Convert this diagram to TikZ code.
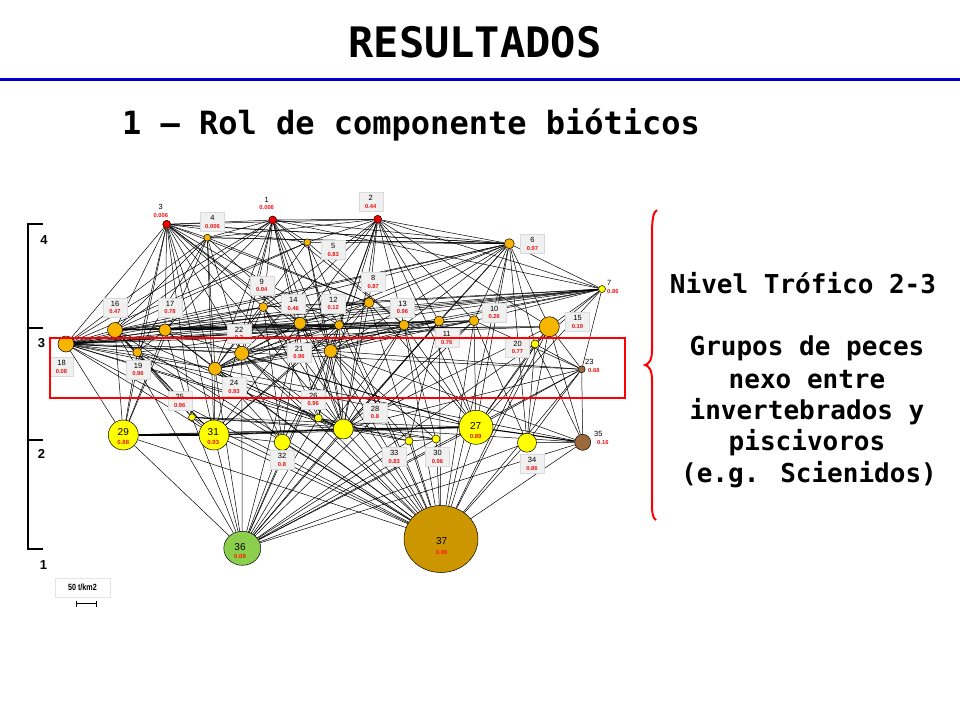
\documentclass[tikz,border=0pt]{standalone}
\usepackage{fontspec}
\setmainfont{Liberation Sans}
\newfontfamily\monob{DejaVu Sans Mono}
\usetikzlibrary{shapes.geometric,backgrounds}
\definecolor{cred}{HTML}{EE0000}
\definecolor{corange}{HTML}{F7B500}
\definecolor{cyel}{HTML}{FFFF00}
\definecolor{cbrown}{HTML}{9C6A3A}
\definecolor{cgreen}{HTML}{8CCF4D}
\definecolor{cgold}{HTML}{CC9600}
\definecolor{cval}{HTML}{EE1111}
\definecolor{cblue}{HTML}{0000CC}
\definecolor{boxfill}{HTML}{F0F0F0}
\tikzset{
  nd/.style={circle,draw=black,line width=0.5pt,inner sep=0pt},
  edge/.style={draw=black,line width=0.5pt},
  lbox/.style={draw=gray!30,fill=boxfill,inner sep=0.6pt,minimum width=24pt,minimum height=19pt,align=center,font=\fontsize{7.5}{7.5}\selectfont},
  lfree/.style={inner sep=0pt,align=center,font=\fontsize{7.5}{7.5}\selectfont},
  intext/.style={inner sep=0pt,font=\fontsize{10}{10}\selectfont},
  inval/.style={inner sep=0pt,text=cval,font=\bfseries\fontsize{6}{6}\selectfont},
  axlab/.style={inner sep=0pt,font=\bfseries\fontsize{13}{13}\selectfont},
  rtext/.style={inner sep=0pt,font=\monob\bfseries\fontsize{26}{30}\selectfont},
}
\newcommand{\vl}[1]{{\color{cval}\bfseries\fontsize{5.8}{6}\selectfont #1}}
\begin{document}
\begin{tikzpicture}[x=1pt,y=-1pt]
\useasboundingbox (0,0) rectangle (960,720);
% title
\node[inner sep=0pt,font=\monob\bfseries\fontsize{42}{46}\selectfont] (title) at (475,42) {RESULTADOS};
\draw[cblue,line width=3pt] (0,79) -- (960,79);
\node[inner sep=0pt,font=\monob\bfseries\fontsize{32}{36}\selectfont] (sub) at (411,125) {1 – Rol de componente bióticos};
% nodes
\node[nd,fill=cred,minimum size=8pt] (n1) at (272.7,220) {};
\node[nd,fill=cred,minimum size=8pt] (n2) at (377.7,219.3) {};
\node[nd,fill=cred,minimum size=8pt] (n3) at (166.7,224.3) {};
\node[nd,fill=corange,minimum size=7pt] (n4) at (207.3,237.7) {};
\node[nd,fill=corange,minimum size=7pt] (n5) at (307.3,242.3) {};
\node[nd,fill=corange,minimum size=10pt] (n6) at (509.3,243.7) {};
\node[nd,fill=cyel,minimum size=7pt] (n7) at (602,289) {};
\node[nd,fill=corange,minimum size=10pt] (n8) at (369,302.7) {};
\node[nd,fill=corange,minimum size=9pt] (n9) at (263.3,307) {};
\node[nd,fill=corange,minimum size=10pt] (n10) at (474,320.7) {};
\node[nd,fill=corange,minimum size=10pt] (n11) at (439,321) {};
\node[nd,fill=corange,minimum size=9pt] (n12) at (339,325) {};
\node[nd,fill=corange,minimum size=10pt] (n13) at (404,325) {};
\node[nd,fill=corange,minimum size=12pt] (n14) at (300,323.3) {};
\node[nd,fill=corange,minimum size=20pt] (n15) at (549.3,326.7) {};
\node[nd,fill=corange,minimum size=15pt] (n16) at (115,330) {};
\node[nd,fill=corange,minimum size=12pt] (n17) at (165,330) {};
\node[nd,fill=corange,minimum size=16pt] (n18) at (66,344) {};
\node[nd,fill=corange,minimum size=9pt] (n19) at (137.3,352.3) {};
\node[nd,fill=cyel,minimum size=8pt] (n20) at (535,344) {};
\node[nd,fill=corange,minimum size=13pt] (n21) at (330.7,351) {};
\node[nd,fill=corange,minimum size=14pt] (n22) at (241.7,353.3) {};
\node[nd,fill=cbrown,minimum size=7pt] (n23) at (581.7,369.3) {};
\node[nd,fill=corange,minimum size=13pt] (n24) at (215,368.7) {};
\node[nd,fill=cyel,minimum size=7pt] (n25) at (192,417.3) {};
\node[nd,fill=cyel,minimum size=8pt] (n26) at (318.3,418) {};
\node[nd,fill=cyel,minimum size=34pt] (n27) at (476,427.3) {};
\node[nd,fill=cyel,minimum size=20pt] (n28) at (343.3,429) {};
\node[nd,fill=cyel,minimum size=30pt] (n29) at (123.3,435) {};
\node[nd,fill=cyel,minimum size=8pt] (n30) at (436,439) {};
\node[nd,fill=cyel,minimum size=30pt] (n31) at (214,435) {};
\node[nd,fill=cyel,minimum size=16pt] (n32) at (282.3,442.3) {};
\node[nd,fill=cyel,minimum size=8pt] (n33) at (409,441) {};
\node[nd,fill=cyel,minimum size=19pt] (n34) at (527,442.7) {};
\node[nd,fill=cbrown,minimum size=16pt] (n35) at (582.7,442.3) {};
\node[ellipse,draw=black,line width=0.5pt,inner sep=0pt,fill=cgreen,minimum width=37pt,minimum height=34pt] (n36) at (242.3,548.3) {};
\node[ellipse,draw=black,line width=0.5pt,inner sep=0pt,fill=cgold,minimum width=74pt,minimum height=67pt] (n37) at (441,539) {};
% edges
\begin{pgfonlayer}{background}
\foreach \a/\b in {3/4,3/5,3/6,3/8,3/9,3/12,3/14,3/16,3/17,3/18,3/19,3/21,3/22,3/24,3/25,3/28,3/29,3/31,3/1,
1/4,1/5,1/6,1/7,1/9,1/12,1/14,1/16,1/17,1/18,1/21,1/22,1/24,1/26,1/28,1/31,1/13,
2/1,2/5,2/6,2/7,2/8,2/9,2/10,2/11,2/12,2/13,2/14,2/15,2/21,2/22,2/26,2/28,2/27,2/3,2/4,
4/6,4/14,4/16,4/18,4/19,4/22,4/24,4/29,4/31,4/8,
5/6,5/16,5/18,5/21,5/28,5/13,5/24,
6/3,6/4,6/7,6/8,6/11,6/10,6/13,6/14,6/15,6/16,6/18,6/21,6/20,6/27,6/34,6/28,6/9,
7/8,7/9,7/12,7/13,7/14,7/15,7/16,7/17,7/10,7/11,7/20,7/23,7/27,7/18,
8/14,8/16,8/17,8/18,8/21,8/24,8/28,8/31,8/27,8/9,
9/16,9/18,9/22,9/24,9/26,9/28,9/32,9/17,
10/16,10/17,10/18,10/21,10/22,10/24,10/27,10/28,10/23,10/34,
11/16,11/18,11/21,11/24,11/28,11/27,11/33,11/22,
12/16,12/18,12/22,12/24,12/28,12/31,12/26,12/19,
13/16,13/17,13/18,13/21,13/24,13/28,13/27,13/30,
14/16,14/17,14/18,14/22,14/24,14/28,14/31,14/32,
15/23,15/27,15/34,15/35,15/28,15/20,15/17,15/16,15/18,
16/18,16/19,16/29,16/31,16/36,16/37,16/25,16/28,
17/18,17/19,17/24,17/29,17/37,17/25,17/27,
18/19,18/21,18/22,18/24,18/26,18/28,18/27,18/23,18/29,18/37,18/31,
19/24,19/25,19/29,19/31,19/37,19/28,
20/23,20/34,20/35,20/27,20/37,20/36,
21/24,21/23,21/28,21/26,21/30,21/33,21/37,21/36,21/35,21/32,
22/24,22/32,22/28,22/37,22/36,22/26,22/27,
23/35,23/27,23/34,23/37,23/36,23/28,
24/26,24/28,24/31,24/32,24/37,24/36,24/35,
25/31,25/28,25/27,25/37,25/36,25/35,
26/28,26/37,26/36,26/33,26/30,
27/37,27/36,27/31,27/29,
28/29,28/37,28/36,28/33,28/30,
29/36,29/37,
30/37,30/36,30/33,
31/37,31/36,31/32,
32/37,32/36,
33/37,33/36,
34/35,34/37,34/36,
35/37,35/36,
5/37,9/37,12/37,13/37,14/37,11/37,10/37,8/37,15/37,6/37,
14/36,13/36,11/36,10/36,12/36}
  \draw[edge] (n\a) -- (n\b);
\draw[edge,line width=1.1pt] (n29) -- (n31);
\draw[edge,line width=1.1pt] (n31) -- (n28);
\draw[edge,line width=1.1pt] (n28) -- (n27);
\draw[edge,line width=1.1pt] (n27) -- (n35);
\end{pgfonlayer}
% labels with boxes
\node[lbox] (l2) at (370.8,201.7) {2\\\vl{0.44}};
\node[lbox] (l4) at (212.5,222) {4\\\vl{0.006}};
\node[lbox] (l5) at (333.3,250) {5\\\vl{0.83}};
\node[lbox] (l6) at (532.5,243.8) {6\\\vl{0.97}};
\node[lbox] (l8) at (373.3,281.7) {8\\\vl{0.87}};
\node[lbox] (l9) at (261.7,285.3) {9\\\vl{0.94}};
\node[lbox] (l10) at (494.2,312.5) {10\\\vl{0.26}};
\node[lbox] (l11) at (446.7,338) {11\\\vl{0.76}};
\node[lbox] (l12) at (333.3,303.3) {12\\\vl{0.12}};
\node[lbox] (l13) at (402.5,307.5) {13\\\vl{0.96}};
\node[lbox] (l14) at (293.3,304) {14\\\vl{0.46}};
\node[lbox] (l15) at (577.5,321.7) {15\\\vl{0.19}};
\node[lbox] (l16) at (115,307.5) {16\\\vl{0.47}};
\node[lbox] (l17) at (170,307.5) {17\\\vl{0.78}};
\node[lbox] (l18) at (61.5,367) {18\\\vl{0.08}};
\node[lbox] (l19) at (138,369.5) {19\\\vl{0.96}};
\node[lbox] (l20) at (517.5,347.5) {20\\\vl{0.77}};
\node[lbox] (l21) at (299,352.5) {21\\\vl{0.96}};
\node[lbox] (l22) at (239,333.5) {22\\\vl{0.2}};
\node[lbox] (l24) at (234,386.7) {24\\\vl{0.93}};
\node[lbox] (l25) at (179.8,401) {25\\\vl{0.96}};
\node[lbox] (l26) at (313.3,399.2) {26\\\vl{0.96}};
\node[lbox] (l28) at (375,412.3) {28\\\vl{0.8}};
\node[lbox] (l30) at (437.5,456.7) {30\\\vl{0.96}};
\node[lbox] (l32) at (282,460) {32\\\vl{0.8}};
\node[lbox] (l33) at (394.2,456.7) {33\\\vl{0.83}};
\node[lbox] (l34) at (532,464) {34\\\vl{0.86}};
% free labels
\node[lfree] (l1) at (266.7,203.3) {1\\\vl{0.006}};
\node[lfree] (l3) at (160.8,211) {3\\\vl{0.006}};
\node[lfree,align=left,anchor=west] (l7) at (607,287) {7\\\vl{0.86}};
\node[lfree,align=left,anchor=west] (l23) at (585,366) {23\\\hspace*{3pt}\vl{0.68}};
\node[lfree,align=left,anchor=west] (l35) at (594,438) {35\\\hspace*{3pt}\vl{0.16}};
% inside labels
\node[intext] (t27) at (475.7,426.5) {27};
\node[inval] (v27) at (475.7,436) {0.89};
\node[intext] (t29) at (123.3,432.5) {29};
\node[inval] (v29) at (123.3,442.3) {0.88};
\node[intext] (t31) at (213.3,432.5) {31};
\node[inval] (v31) at (213.3,442.3) {0.93};
\node[intext] (t36) at (240,547) {36};
\node[inval,text=red!80!orange] (v36) at (240,556.7) {0.09};
\node[intext] (t37) at (441.7,541.5) {37};
\node[inval,text=red!80!orange] (v37) at (441.7,552) {0.06};
% red rectangle
\draw[red,line width=2.7pt] (50,338) rectangle (625,398);
% axis
\draw[black,line width=1.5pt] (43,224) -- (28,224) -- (28,549) -- (43,549);
\draw[black,line width=1.5pt] (28,328) -- (43,328);
\draw[black,line width=1.5pt] (28,440) -- (43,440);
\node[axlab] (a4) at (44,240) {4};
\node[axlab] (a3) at (41.5,343.5) {3};
\node[axlab] (a2) at (41.5,453.5) {2};
\node[axlab] (a1) at (43.5,565) {1};
% scale
\node[draw=gray!20,fill=white,minimum width=55pt,minimum height=19pt,inner sep=0pt,font=\bfseries\fontsize{9}{9}\selectfont] (sc) at (82.5,587.5) {\addfontfeature{FakeStretch=0.8}50 t/km2};
\draw[black,line width=1pt] (76,603.5) -- (96,603.5);
\draw[black,line width=1pt] (76,600.5) -- (76,606.5);
\draw[black,line width=1pt] (96,600.5) -- (96,606.5);
% brace
\draw[red,line width=2pt] (657,210) .. controls (653,212) and (652,220) .. (652,235) -- (652,350) .. controls (652,360) and (649,364) .. (645,365) .. controls (649,366) and (652,370) .. (652,380) -- (652,505) .. controls (652,514) and (653,518) .. (656,520);
% right text
\node[rtext] (r1) at (803,283) {Nivel Trófico 2-3};
\node[rtext] (r2) at (807,348) {Grupos de peces};
\node[rtext] (r3) at (807,380) {nexo entre};
\node[rtext] (r4) at (807,412) {invertebrados y};
\node[rtext] (r5) at (807,443) {piscivoros};
\node[rtext] (r6) at (809,475) {(e.g. Scienidos)};
\end{tikzpicture}
\end{document}
